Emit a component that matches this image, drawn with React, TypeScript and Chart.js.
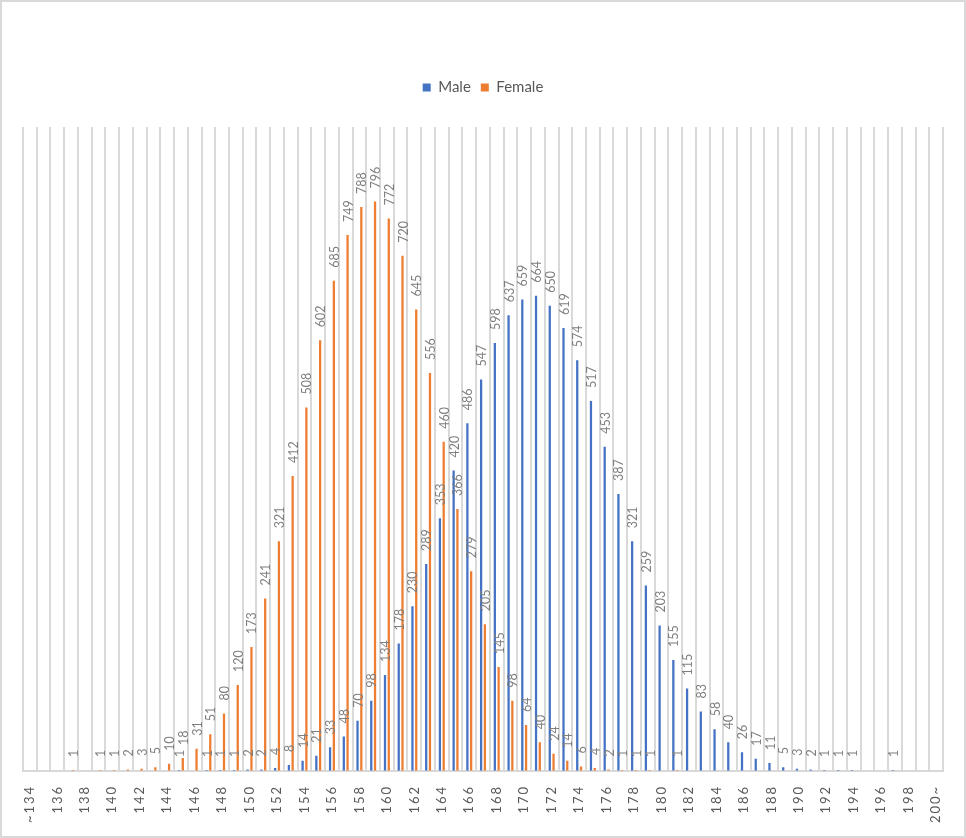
import React, { useEffect, useRef } from 'react';
import { Chart, registerables } from 'chart.js';

Chart.register(...registerables);

const categories = [
  '~134', '135', '136', '137', '138', '139', '140', '141', '142', '143',
  '144', '145', '146', '147', '148', '149', '150', '151', '152', '153',
  '154', '155', '156', '157', '158', '159', '160', '161', '162', '163',
  '164', '165', '166', '167', '168', '169', '170', '171', '172', '173',
  '174', '175', '176', '177', '178', '179', '180', '181', '182', '183',
  '184', '185', '186', '187', '188', '189', '190', '191', '192', '193',
  '194', '195', '196', '197', '198', '199', '200~',
];

// Male counts per height (null = empty cell)
const maleValues: (number | null)[] = [
  null, null, null, null, null, null, null, null, null, null, // 134-143
  null, 1, null, 1, 1, 1, 2, 2, 4, 8, // 144-153
  14, 21, 33, 48, 70, 98, 134, 178, 230, 289, // 154-163
  353, 420, 486, 547, 598, 637, 659, 664, 650, 619, // 164-173
  574, 517, 453, 387, 321, 259, 203, 155, 115, 83, // 174-183
  58, 40, 26, 17, 11, 5, 3, 2, 1, 1, // 184-193
  1, null, null, 1, null, null, null, // 194-200
];

// Female counts per height (null = empty cell)
const femaleValues: (number | null)[] = [
  null, null, null, 1, null, 1, 1, 2, 3, 5, // 134-143
  10, 18, 31, 51, 80, 120, 173, 241, 321, 412, // 144-153
  508, 602, 685, 749, 788, 796, 772, 720, 645, 556, // 154-163
  460, 366, 279, 205, 145, 98, 64, 40, 24, 14, // 164-173
  6, 4, 2, 1, 1, 1, null, 1, null, null, // 174-183
  null, null, null, null, null, null, null, null, null, null, // 184-193
  null, null, null, null, null, null, null, // 194-200
];

const seriesNames = ['Male', 'Female'];
const seriesColors = ['#4472C4', '#ED7D31'];
const yMax = 900;

const FONT = 'Lato, "Open Sans", "Liberation Sans", sans-serif';

const legendSpacer = {
  id: 'legendSpacer',
  afterInit(chart: any) {
    const lg = chart.legend;
    if (!lg || lg.__patched) return;
    const orig = lg.fit;
    lg.fit = function () {
      orig.call(this);
      this.height += 22;
    };
    lg.__patched = true;
  },
};

const dataLabels = {
  id: 'dataLabels',
  afterDatasetsDraw(chart: any) {
    const ctx: CanvasRenderingContext2D = chart.ctx;
    ctx.save();
    ctx.font = `12.5px ${FONT}`;
    ctx.fillStyle = '#7f7f7f';
    ctx.textAlign = 'left';
    ctx.textBaseline = 'middle';
    chart.data.datasets.forEach((ds: any, di: number) => {
      const meta = chart.getDatasetMeta(di);
      meta.data.forEach((el: any, i: number) => {
        const v = ds.data[i];
        if (v === null || v === undefined) return;
        ctx.save();
        ctx.translate(el.x + 1, el.y - 13);
        ctx.rotate(-Math.PI / 2);
        ctx.fillText(String(v), 0, 0);
        ctx.restore();
      });
    });
    ctx.restore();
    // spacing for the x tick labels that are drawn after datasets
    (ctx as any).letterSpacing = '2px';
  },
  afterDraw(chart: any) {
    (chart.ctx as any).letterSpacing = '0px';
  },
};

export default function App() {
  const ref = useRef<HTMLCanvasElement>(null);

  useEffect(() => {
    if (!ref.current) return;
    const chart = new Chart(ref.current, {
      type: 'bar',
      data: {
        labels: categories,
        datasets: [
          {
            label: seriesNames[0],
            data: maleValues,
            backgroundColor: seriesColors[0],
            borderWidth: 0,
            categoryPercentage: 0.55,
            barPercentage: 0.6,
          },
          {
            label: seriesNames[1],
            data: femaleValues,
            backgroundColor: seriesColors[1],
            borderWidth: 0,
            categoryPercentage: 0.55,
            barPercentage: 0.6,
          },
        ],
      },
      options: {
        responsive: false,
        animation: false,
        devicePixelRatio: 1,
        layout: { padding: { top: 70, left: 23, right: 23, bottom: 9 } },
        plugins: {
          legend: {
            position: 'top',
            labels: {
              boxWidth: 8,
              boxHeight: 8,
              padding: 10,
              color: '#595959',
              font: { family: FONT, size: 15 },
            },
          },
          tooltip: { enabled: false },
        },
        scales: {
          x: {
            offset: true,
            grid: {
              offset: true,
              color: '#d9d9d9',
              lineWidth: 2,
              drawTicks: false,
            },
            border: { display: true, color: '#d9d9d9', width: 2 },
            ticks: {
              z: 1,
              autoSkip: false,
              minRotation: 90,
              maxRotation: 90,
              padding: 14,
              color: '#595959',
              font: { family: FONT, size: 13 },
              callback: (_v: any, i: number) => (i % 2 === 0 ? categories[i] : ''),
            },
          },
          y: {
            display: false,
            min: 0,
            max: yMax,
          },
        },
      },
      plugins: [legendSpacer, dataLabels],
    } as any);
    return () => chart.destroy();
  }, []);

  return (
    <div style={{ position: 'absolute', left: 0, top: 0, width: 966, height: 838, background: '#fff' }}>
      <canvas ref={ref} width={966} height={838} style={{ width: 966, height: 838, display: 'block' }} />
      <div
        style={{
          position: 'absolute',
          left: 0,
          top: 0,
          width: 966,
          height: 838,
          boxSizing: 'border-box',
          border: '2px solid #d9d9d9',
          pointerEvents: 'none',
        }}
      />
    </div>
  );
}
